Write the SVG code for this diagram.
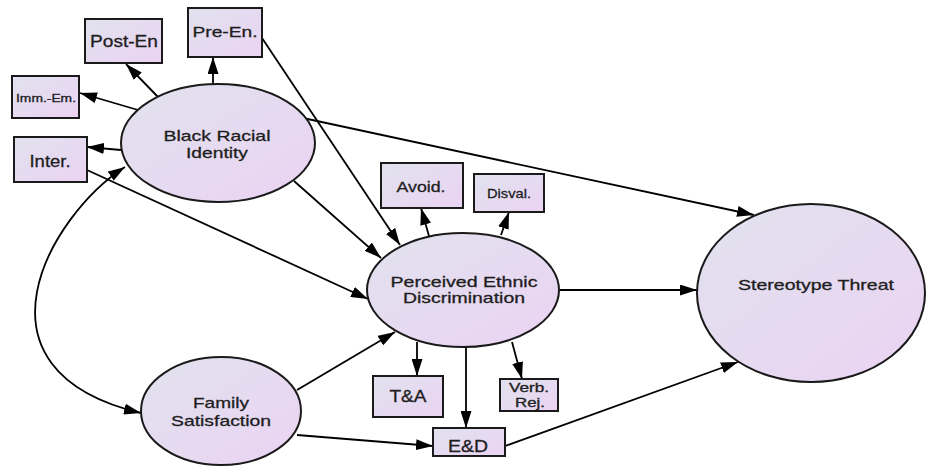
<svg xmlns="http://www.w3.org/2000/svg" width="926" height="466" viewBox="0 0 926 466">
<style>
.n{stroke:#1a1a1a;stroke-width:2;fill:url(#g)}
.c{stroke:#000;stroke-width:1.8;fill:none;marker-end:url(#a)}
text{font-family:"Liberation Sans",Arial,sans-serif;fill:#1e1e1e;stroke:#1e1e1e;stroke-width:0.3;text-anchor:middle}
</style>
<defs>
<linearGradient id="g" x1="0" y1="0" x2="1" y2="1">
<stop offset="0" stop-color="#e1e2ee"/>
<stop offset="1" stop-color="#ebd3f3"/>
</linearGradient>
<marker id="a" markerUnits="userSpaceOnUse" markerWidth="17" markerHeight="11" refX="17" refY="5.5" orient="auto-start-reverse">
<path d="M0,0 L17,5.5 L0,11 z" fill="#000"/>
</marker>
</defs>
<rect width="926" height="466" fill="#fff"/>
<g id="connectors">
<line class="c" x1="158" y1="97" x2="126" y2="64"/>
<line class="c" x1="213" y1="85" x2="213" y2="57"/>
<line class="c" x1="138" y1="110" x2="80" y2="93"/>
<line class="c" x1="121" y1="150" x2="87" y2="147"/>
<path class="c" d="M125,167 C50,215 -40,370 141,413" style="marker-start:url(#a)"/>
<line class="c" x1="87" y1="170" x2="368" y2="299"/>
<line class="c" x1="262" y1="38" x2="400" y2="245"/>
<line class="c" x1="294" y1="181" x2="381" y2="258"/>
<line class="c" x1="303" y1="118" x2="754" y2="215"/>
<line class="c" x1="429" y1="236" x2="421" y2="208"/>
<line class="c" x1="501" y1="235" x2="509" y2="212"/>
<line class="c" x1="559" y1="290" x2="697" y2="290"/>
<line class="c" x1="297" y1="390" x2="395" y2="332"/>
<line class="c" x1="417" y1="342" x2="417" y2="376"/>
<line class="c" x1="466" y1="347" x2="466" y2="428"/>
<line class="c" x1="512" y1="342" x2="522" y2="379"/>
<line class="c" x1="297" y1="435" x2="433" y2="446"/>
<line class="c" x1="505" y1="446" x2="738" y2="362"/>
</g>
<g id="bri"><ellipse class="n" cx="218" cy="143" rx="97" ry="59"/>
<text x="217" y="141" font-size="15" textLength="107" lengthAdjust="spacingAndGlyphs">Black Racial</text>
<text x="217" y="158" font-size="15" textLength="62" lengthAdjust="spacingAndGlyphs">Identity</text></g>
<g id="ped"><ellipse class="n" cx="463" cy="290" rx="96" ry="57"/>
<text x="464" y="287" font-size="14.5" textLength="147" lengthAdjust="spacingAndGlyphs">Perceived Ethnic</text>
<text x="464" y="303" font-size="14.5" textLength="122" lengthAdjust="spacingAndGlyphs">Discrimination</text></g>
<g id="st"><ellipse class="n" cx="811" cy="293" rx="114" ry="89"/>
<text x="816" y="290" font-size="15" textLength="156" lengthAdjust="spacingAndGlyphs">Stereotype Threat</text></g>
<g id="fs"><ellipse class="n" cx="221" cy="411" rx="80" ry="54"/>
<text x="221" y="408" font-size="15" textLength="56" lengthAdjust="spacingAndGlyphs">Family</text>
<text x="221" y="426" font-size="15" textLength="100" lengthAdjust="spacingAndGlyphs">Satisfaction</text></g>
<g id="post-en"><rect class="n" x="85" y="19" width="77" height="44"/>
<text x="124" y="47" font-size="16" textLength="68" lengthAdjust="spacingAndGlyphs">Post-En</text></g>
<g id="pre-en"><rect class="n" x="188" y="8" width="74" height="49"/>
<text x="225" y="37" font-size="15" textLength="65" lengthAdjust="spacingAndGlyphs">Pre-En.</text></g>
<g id="imm-em"><rect class="n" x="12" y="76" width="67" height="42"/>
<text x="46" y="102" font-size="10" textLength="60" lengthAdjust="spacingAndGlyphs">Imm.-Em.</text></g>
<g id="inter"><rect class="n" x="14" y="137" width="73" height="45"/>
<text x="50" y="167" font-size="16" textLength="41" lengthAdjust="spacingAndGlyphs">Inter.</text></g>
<g id="avoid"><rect class="n" x="381" y="163" width="82" height="45"/>
<text x="421" y="192" font-size="15" textLength="49" lengthAdjust="spacingAndGlyphs">Avoid.</text></g>
<g id="disval"><rect class="n" x="474" y="174" width="70" height="38"/>
<text x="509" y="198" font-size="13.5" textLength="44" lengthAdjust="spacingAndGlyphs">Disval.</text></g>
<g id="ta"><rect class="n" x="373" y="376" width="70" height="41"/>
<text x="408" y="402" font-size="16" textLength="37" lengthAdjust="spacingAndGlyphs">T&amp;A</text></g>
<g id="verb-rej"><rect class="n" x="500" y="379" width="58" height="32"/>
<text x="529" y="392" font-size="12" textLength="40" lengthAdjust="spacingAndGlyphs">Verb.</text>
<text x="530" y="407" font-size="12" textLength="30" lengthAdjust="spacingAndGlyphs">Rej.</text></g>
<g id="ed"><rect class="n" x="433" y="428" width="72" height="28"/>
<text x="468" y="452" font-size="16" textLength="40" lengthAdjust="spacingAndGlyphs">E&amp;D</text></g>
</svg>
